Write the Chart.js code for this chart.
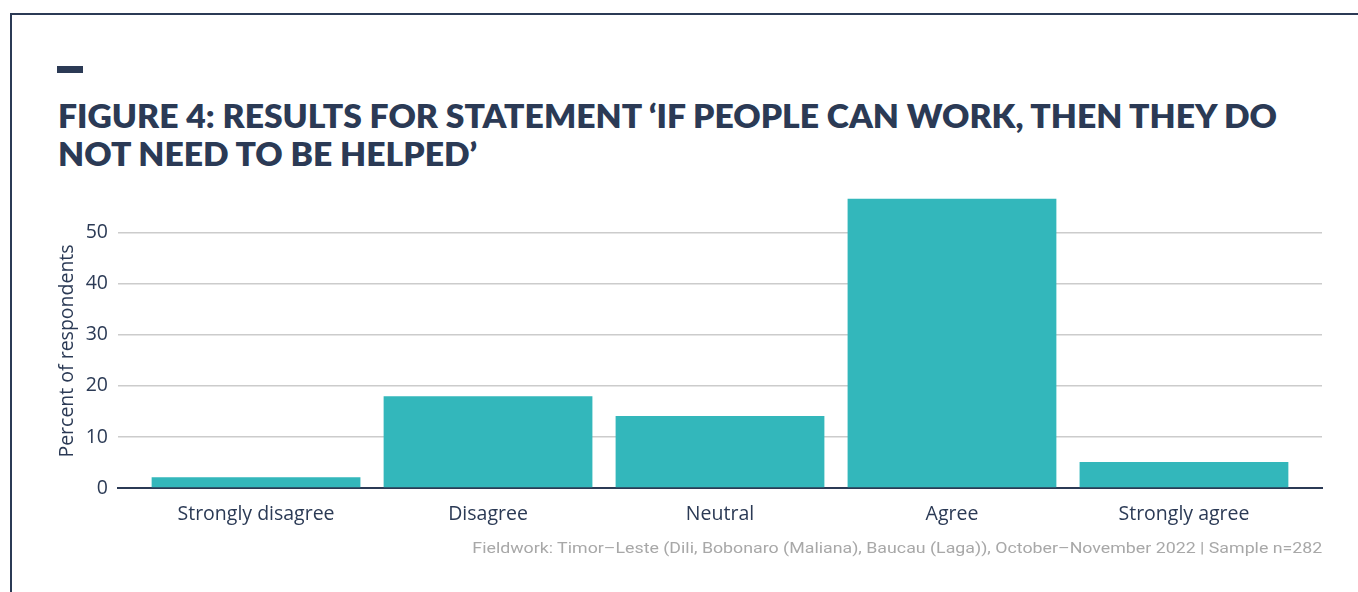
<!DOCTYPE html>
<html>
<head>
<meta charset="utf-8">
<script src="https://cdn.jsdelivr.net/npm/chart.js@4.4.0/dist/chart.umd.min.js"></script>
<style>
  html, body { margin: 0; padding: 0; background: #ffffff; }
  body { width: 1358px; height: 592px; position: relative; overflow: hidden; }
  #frame { position: absolute; left: 10px; top: 13px; width: 1400px; height: 700px;
           border-left: 2px solid #2b3a55; border-top: 2px solid #2b3a55; }
  #dash { position: absolute; left: 57px; top: 66px; width: 26px; height: 7px; background: #2b3a55; }
  .title { position: absolute; left: 58px; font-family: "Lato", "Open Sans", sans-serif; font-weight: 800;
           font-size: 32px; line-height: 32px; color: #2b3a55; white-space: nowrap; transform-origin: left center; }
  #source { position: absolute; right: 36px; top: 539px; font-family: "Roboto", sans-serif; font-size: 15px;
            line-height: 18px; color: #a8a8a8; white-space: nowrap; transform-origin: right center; }
  #chartWrap { position: absolute; left: 0; top: 0; width: 1358px; height: 592px; }
</style>
</head>
<body>
<div id="frame"></div>
<div id="dash"></div>
<div class="title" id="t1">FIGURE 4: RESULTS FOR STATEMENT ‘IF PEOPLE CAN WORK, THEN THEY DO</div>
<div class="title" id="t2">NOT NEED TO BE HELPED’</div>
<div id="chartWrap"><canvas id="c" width="1358" height="592"></canvas></div>
<div id="source">Fieldwork: Timor–Leste (Dili, Bobonaro (Maliana), Baucau (Laga)), October–November 2022 | Sample n=282</div>
<script>
const categories = ["Strongly disagree", "Disagree", "Neutral", "Agree", "Strongly agree"];
const percentValues = [2.1, 18.0, 14.1, 56.7, 5.1];
const yTickValues = [0, 10, 20, 30, 40, 50];
const yAxisTitle = "Percent of respondents";

const navy = "#2b3a55";
const teal = "#33b7bb";
const labelFont = "Open Sans";
const labelSize = 19.5;

function fitWidth(el, target) {
  const w = el.getBoundingClientRect().width;
  el.style.transform = "scaleX(" + (target / w) + ")";
}
const t1 = document.getElementById("t1");
const t2 = document.getElementById("t2");
t1.style.top = "100px";
t2.style.top = "138px";
const s1 = 1219 / t1.getBoundingClientRect().width;
t1.style.transform = "scaleX(" + s1 + ")";
t2.style.transform = "scaleX(" + s1 + ")";
fitWidth(document.getElementById("source"), 850);

const yTitlePlugin = {
  id: "yTitle",
  afterDraw(chart) {
    const ctx = chart.ctx;
    const area = chart.chartArea;
    ctx.save();
    ctx.translate(67, (area.top + area.bottom) / 2 + 11);
    ctx.rotate(-Math.PI / 2);
    ctx.font = labelSize + "px '" + labelFont + "'";
    ctx.fillStyle = navy;
    ctx.textAlign = "center";
    ctx.textBaseline = "middle";
    ctx.fillText(yAxisTitle, 0, 0);
    ctx.restore();
  }
};

const chart = new Chart(document.getElementById("c"), {
  type: "bar",
  data: {
    datasets: [{
      data: categories.map((c, i) => ({ x: i, y: percentValues[i] })),
      backgroundColor: teal,
      borderWidth: 0,
      barPercentage: 0.9,
      categoryPercentage: 1.0
    }]
  },
  plugins: [yTitlePlugin],
  options: {
    responsive: false,
    animation: false,
    events: [],
    layout: { padding: { left: 50, right: 36, top: 192, bottom: 0 } },
    plugins: { legend: { display: false }, tooltip: { enabled: false }, title: { display: false } },
    scales: {
      x: {
        type: "linear",
        offset: false,
        min: -0.595,
        max: 4.595,
        grid: { display: false, drawTicks: false, offset: false },
        border: { display: true, color: navy, width: 2 },
        afterBuildTicks: (scale) => { scale.ticks = categories.map((c, i) => ({ value: i })); },
        afterFit: (scale) => { scale.height = 104; },
        ticks: {
          autoSkip: false,
          maxRotation: 0,
          padding: 15,
          color: navy,
          font: { family: labelFont, size: labelSize },
          callback: (v) => categories[v] !== undefined ? categories[v] : ""
        }
      },
      y: {
        type: "linear",
        min: 0,
        max: 58,
        grid: { color: "#cccccc", lineWidth: 1.5, drawTicks: false },
        border: { display: false },
        afterBuildTicks: (scale) => { scale.ticks = yTickValues.map(v => ({ value: v })); },
        afterFit: (scale) => { scale.width = 68; },
        ticks: {
          padding: 10,
          color: navy,
          font: { family: labelFont, size: labelSize }
        }
      }
    }
  }
});
</script>
</body>
</html>
